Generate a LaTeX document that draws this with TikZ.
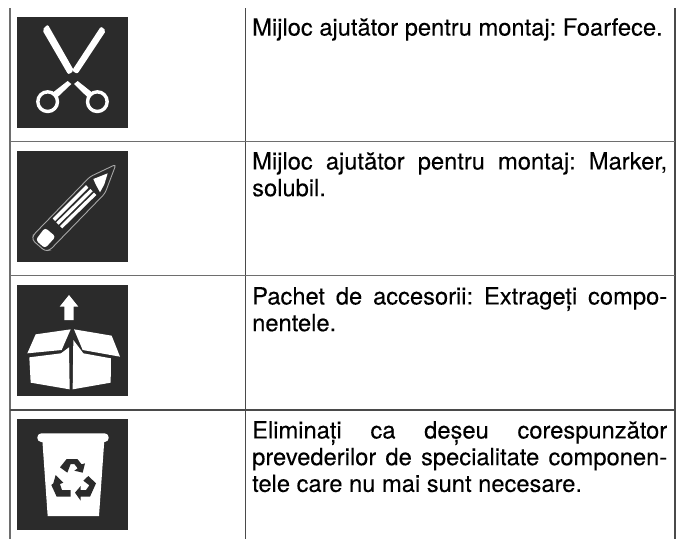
\documentclass[tikz,border=0pt]{standalone}
\usepackage{fontspec}
\setmainfont[FakeBold=0.1]{TeX Gyre Heros}
\definecolor{iconbg}{HTML}{2B2B2B}
\definecolor{rule}{HTML}{4A4A4A}
\tikzset{
  tabline/.style={draw=rule,line width=1.2pt},
  iconbox/.style={fill=iconbg},
  ink/.style={fill=white,draw=none},
  dark/.style={fill=iconbg,draw=none},
  txt/.style={anchor=north west,inner sep=0pt,text width=415pt,align=justify,font=\fontsize{23.7}{26.7}\selectfont\frenchspacing},
}
\newcommand{\fl}{\rule{0pt}{16pt}}
\begin{document}
\begin{tikzpicture}[x=0.33333pt,y=-0.33333pt]
\useasboundingbox (0,0) rectangle (2043,1617);
\fill[white] (0,0) rectangle (2043,1617);
\coordinate (tl) at (30,24); \coordinate (bl) at (30,1617);
\coordinate (tm) at (736,24); \coordinate (bm) at (736,1617);
\coordinate (tr) at (2025,24); \coordinate (br) at (2025,1617);
\draw[tabline,draw=rule!80,line width=1.6pt] (tl)--(bl);
\draw[tabline] (tm)--(bm);
\draw[tabline] (tr)--(br);
\foreach \y/\c in {425/rule!80,827/rule!80,1230/rule}{\draw[tabline,draw=\c] (30,\y)--(2025,\y);}
\foreach \y in {51,453,855,1257}{\fill[iconbox] (51,\y) rectangle (384,\y+333);}
% scissors
\fill[ink,rounded corners=2pt] (127,90) -- (143,73) -- (222,212) -- (205,224) -- cycle;
\fill[ink,rounded corners=2pt] (318,92) -- (303,79) -- (216,212) -- (232,222) -- cycle;
\draw[white,line width=3.4pt] (143,305) circle (29.5);
\draw[white,line width=3.4pt] (292,305) circle (29.5);
\fill[ink] (158,278) -- (203,243) -- (214,252) -- (172,292) -- cycle;
\fill[ink] (277,278) -- (233,243) -- (222,252) -- (263,292) -- cycle;
% pencil
\begin{scope}[shift={(75,465)}]
\draw[white!65!black,line width=0.9pt,rounded corners=3pt] (273,28) -- (195,65) -- (25,240) -- (22,255) -- (60,288) -- (75,285) -- (240,115) -- cycle;
\fill[ink] (205,72) -- (248,55) -- (238,88) -- (225,112) -- (212,88) -- cycle;
\fill[ink] (183,90) -- (190,98) -- (90,198) -- (83,190) -- cycle;
\fill[ink] (196,102) -- (203,109) -- (101,209) -- (94,202) -- cycle;
\fill[ink] (207,113) -- (214,120) -- (112,220) -- (105,213) -- cycle;
\fill[ink,rounded corners=3pt] (60,218) -- (92,245) -- (60,280) -- (32,255) -- cycle;
\end{scope}
% box
\begin{scope}[shift={(0,810)}]
\fill[ink] (207,75) -- (235,110) -- (221,110) -- (221,150) -- (193,150) -- (193,110) -- (179,110) -- cycle;
\fill[ink] (212,178) -- (185,240) -- (82,250) -- (107,193) -- cycle;
\fill[ink] (222,178) -- (335,197) -- (360,260) -- (248,240) -- cycle;
\fill[ink] (88,262) -- (183,250) -- (207,232) -- (209,358) -- (92,338) -- cycle;
\fill[ink] (218,358) -- (332,338) -- (333,265) -- (250,250) -- (220,210) -- cycle;
\end{scope}
% bin
\begin{scope}[shift={(0,810)}]
\fill[ink,rounded corners=4pt] (112,490) rectangle (326,516);
\fill[ink] (127,510) -- (313,510) -- (297,738) -- (143,738) -- cycle;
\end{scope}
% recycling symbol
\begin{scope}[shift={(120,1350)}]
\fill[dark] (60,52) -- (80,27) -- (112,27) -- (125,43) -- (135,40) -- (128,68) -- (103,62) -- (113,55) -- (103,42) -- (92,42) -- (82,68) -- cycle;
\fill[dark] (47,75) -- (70,98) -- (60,102) -- (66,120) -- (92,120) -- (92,140) -- (50,140) -- (34,105) -- (40,100) -- cycle;
\fill[dark] (145,78) -- (168,100) -- (150,140) -- (122,140) -- (122,152) -- (105,128) -- (122,108) -- (122,120) -- (138,120) -- (148,106) -- (130,92) -- cycle;
\end{scope}
\node[txt] (t1) at (252*3,3*18) {\fl Mijloc ajutător pentru montaj: Foarfece.};
\node[txt] (t2) at (252*3,3*152) {\fl Mijloc ajutător pentru montaj: Marker,\linebreak solubil.};
\node[txt] (t3) at (252*3,3*287) {\fl Pachet de accesorii: Extrageți compo-\linebreak nentele.};
\node[txt] (t4) at (252*3,3*421) {\fl Eliminați ca deșeu corespunzător\linebreak prevederilor de specialitate componen-\linebreak tele care nu mai sunt necesare.};
\end{tikzpicture}
\end{document}
